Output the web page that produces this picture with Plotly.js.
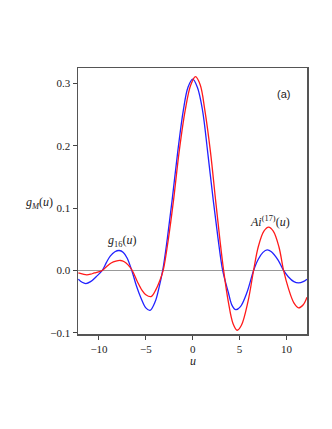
<!DOCTYPE html>
<html>
<head>
<meta charset="utf-8">
<script src="https://cdn.plot.ly/plotly-3.0.1.min.js"></script>
<style>
  body { margin: 0; background: #fff; }
  #chart { width: 332px; height: 429px; }
</style>
</head>
<body>
<div id="chart"></div>
<script>
// blue curve g16(u)
var uBlue = [-12.2, -11.8, -11.4, -10.9, -10.3, -9.65, -9.2, -8.8, -8.3, -7.85, -7.4, -7.0, -6.5, -6.0, -5.5, -5.0, -4.55, -4.0, -3.6, -3.2, -2.7, -2.2, -1.6, -1.0, -0.5, 0.0, 0.5, 1.05, 1.6, 2.2, 2.7, 3.2, 3.8, 4.2, 4.6, 5.1, 5.8, 6.5, 7.0, 7.5, 7.95, 8.4, 9.1, 9.7, 10.2, 10.8, 11.3, 11.8, 12.2];
var gBlue = [-0.014, -0.019, -0.021, -0.018, -0.01, 0.0, 0.013, 0.023, 0.03, 0.032, 0.029, 0.02, 0.0, -0.025, -0.045, -0.06, -0.064, -0.05, -0.028, 0.0, 0.052, 0.112, 0.19, 0.257, 0.294, 0.307, 0.294, 0.257, 0.19, 0.112, 0.052, 0.0, -0.035, -0.056, -0.063, -0.058, -0.035, 0.0, 0.018, 0.029, 0.033, 0.03, 0.017, 0.0, -0.01, -0.018, -0.02, -0.018, -0.014];

// red curve Ai^(17)(u)
var uRed = [-12.2, -11.7, -11.3, -10.9, -10.5, -9.65, -9.2, -8.7, -8.2, -7.7, -7.3, -6.9, -6.45, -5.9, -5.4, -5.0, -4.45, -3.9, -3.5, -3.15, -2.6, -2.05, -1.45, -0.8, -0.2, 0.3, 0.8, 1.3, 1.9, 2.45, 2.9, 3.3, 3.8, 4.3, 4.75, 5.2, 5.9, 6.5, 7.0, 7.6, 8.1, 8.6, 9.2, 9.7, 10.2, 10.8, 11.3, 11.8, 12.2];
var gRed = [-0.004, -0.006, -0.007, -0.006, -0.004, 0.0, 0.006, 0.012, 0.015, 0.016, 0.014, 0.009, 0.0, -0.018, -0.032, -0.039, -0.042, -0.03, -0.016, 0.0, 0.05, 0.112, 0.19, 0.257, 0.298, 0.311, 0.298, 0.257, 0.19, 0.112, 0.05, 0.0, -0.05, -0.085, -0.096, -0.088, -0.05, 0.0, 0.038, 0.063, 0.0695, 0.063, 0.038, 0.0, -0.028, -0.052, -0.06, -0.055, -0.043];

var xTicks = [-10, -5, 0, 5, 10];
var yTicks = [-0.1, 0.0, 0.1, 0.2, 0.3];

var serif = '"Liberation Serif", serif';

var traces = [
    {
        x: uBlue, y: gBlue, mode: 'lines', type: 'scatter',
        line: { color: '#2222ff', width: 1.3, shape: 'spline', smoothing: 1 },
        hoverinfo: 'none'
    },
    {
        x: uRed, y: gRed, mode: 'lines', type: 'scatter',
        line: { color: '#ff1a1a', width: 1.3, shape: 'spline', smoothing: 1 },
        hoverinfo: 'none'
    }
];

var layout = {
    width: 332,
    height: 429,
    margin: { l: 78, r: 25, t: 68, b: 95 },
    showlegend: false,
    paper_bgcolor: '#fff',
    plot_bgcolor: '#fff',
    font: { family: serif, size: 11, color: '#222' },
    xaxis: {
        range: [-12.24, 12.2],
        tickvals: xTicks,
        ticktext: xTicks.map(v => v < 0 ? '\u2212' + Math.abs(v) : String(v)),
        ticks: 'outside', ticklen: 4, tickcolor: '#444',
        tickfont: { family: serif, size: 11 },
        showgrid: false, zeroline: false,
        showline: true, mirror: true, linecolor: '#555', linewidth: 1.5
    },
    yaxis: {
        range: [-0.102, 0.325],
        tickvals: yTicks,
        ticktext: yTicks.map(v => (v < 0 ? '\u2212' : '') + Math.abs(v).toFixed(1)),
        ticks: 'outside', ticklen: 4, tickcolor: '#444',
        tickfont: { family: serif, size: 11 },
        showgrid: false,
        zeroline: true, zerolinecolor: '#999', zerolinewidth: 1,
        showline: true, mirror: true, linecolor: '#555', linewidth: 1.5
    },
    annotations: [
        {
            xref: 'paper', yref: 'y', x: -0.17, y: 0.108, xanchor: 'center',
            text: '<i>g</i><sub><i>M</i></sub>(<i>u</i>)', showarrow: false,
            font: { family: serif, size: 12 }
        },
        {
            xref: 'x', yref: 'paper', x: 0, y: -0.1, yanchor: 'middle',
            text: '<i>u</i>', showarrow: false,
            font: { family: serif, size: 12 }
        },
        {
            xref: 'x', yref: 'y', x: -7.5, y: 0.048,
            text: '<i>g</i><sub>16</sub>(<i>u</i>)', showarrow: false,
            font: { family: serif, size: 12 }
        },
        {
            xref: 'x', yref: 'y', x: 8.3, y: 0.078,
            text: '<i>Ai</i><sup>(17)</sup>(<i>u</i>)', showarrow: false,
            font: { family: serif, size: 12 }
        },
        {
            xref: 'x', yref: 'y', x: 9.7, y: 0.284,
            text: '(a)', showarrow: false,
            font: { family: '"Liberation Sans", sans-serif', size: 11 }
        }
    ]
};

Plotly.newPlot('chart', traces, layout, { staticPlot: true, displayModeBar: false });
</script>
</body>
</html>
